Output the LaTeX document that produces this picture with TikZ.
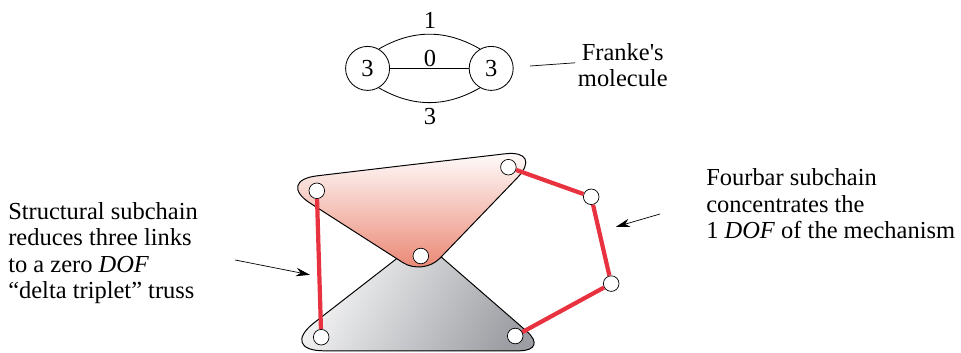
\documentclass[tikz,border=0pt]{standalone}
\usepackage{fontspec}
\setmainfont{Liberation Serif}
\usepackage{tikz}
\usetikzlibrary{arrows.meta,positioning,calc}
\definecolor{linkred}{HTML}{E8323F}
\definecolor{blush}{HTML}{E9806C}
\definecolor{steel}{HTML}{9C9EA3}
\tikzset{
  pin/.style={circle, draw=black, fill=white, line width=0.5pt, inner sep=0pt, minimum size=0.39cm},
  vertex/.style={circle, draw=black, line width=0.6pt, inner sep=0pt, minimum size=1.1cm, font=\fontsize{17.4}{17.4}\selectfont},
  lbl/.style={font=\fontsize{17.4}{17.4}\selectfont, inner sep=0pt},
  note/.style={font=\fontsize{17.4}{18.8}\selectfont, inner sep=0pt, align=left},
  link/.style={linkred, line width=3pt},
  leader/.style={-{Stealth[length=10pt,width=6pt]}, line width=0.5pt}
}
\begin{document}
\begin{tikzpicture}[>=Stealth]
  \useasboundingbox (0, 0) rectangle (24.025, 8.8);
  % the two plates
  \draw[line width=0.7pt, top color=white, bottom color=steel, shading angle=60]
    (10.3, 0.03) [rounded corners=1.15cm] -- (6.95, 0.03) [rounded corners=0.3cm] -- (10.53, 2.81)
    [rounded corners=0.75cm] -- (13.73, 0.03) [rounded corners=0pt] -- cycle;
  \draw[line width=0.7pt, top color=white, bottom color=blush]
    (10.0, 4.65) [rounded corners=1.05cm] -- (6.88, 4.28) [rounded corners=0.6cm] -- (10.58, 1.91)
    [rounded corners=1.0cm] -- (13.62, 5.07) [rounded corners=0pt] -- cycle;
  % pins of the linkage
  \node[pin] (a) at (7.92, 4.03) {};
  \node[pin] (b) at (12.71, 4.62) {};
  \node[pin] (c) at (10.52, 2.40) {};
  \node[pin] (d) at (8.03, 0.37) {};
  \node[pin] (e) at (12.88, 0.40) {};
  \node[pin] (f) at (14.78, 3.88) {};
  \node[pin] (g) at (15.28, 1.71) {};
  \draw[link] (a) -- (d);
  \draw[link] (b) -- (f);
  \draw[link] (f) -- (g);
  \draw[link] (g) -- (e);
  % molecule
  \node[vertex] (v1) at (9.19, 7.09) {3};
  \node[vertex] (v2) at (12.28, 7.09) {3};
  \draw[line width=0.6pt] (v1) -- (v2);
  \draw[line width=0.6pt] (v1.60) to[out=30, in=150] (v2.120);
  \draw[line width=0.6pt] (v1.-60) to[out=-30, in=-150] (v2.-120);
  \node[lbl] (top) at (10.75, 8.30) {1};
  \node[lbl] (mid) at (10.75, 7.35) {0};
  \node[lbl] (bot) at (10.75, 5.88) {3};
  % notes
  \node[note, align=center] (franke) at (15.57, 7.17) {Franke\textquotesingle s\\molecule};
  \node[note, anchor=west] (structural) at (0.2, 2.47) {Structural subchain\\reduces three links\\to a zero \textit{DOF}\\“delta triplet” truss};
  \node[note, anchor=west] (fourbar) at (17.65, 3.70) {Fourbar subchain\\concentrates the\\1 \textit{DOF} of the mechanism};
  \coordinate (l1) at (13.25, 7.15);
  \coordinate (l2) at (14.38, 7.23);
  \draw[line width=0.5pt] (l1) -- (l2);
  \coordinate (s1) at (5.88, 2.30);
  \coordinate (s2) at (7.75, 1.93);
  \draw[leader] (s1) -- (s2);
  \coordinate (r1) at (16.5, 3.45);
  \coordinate (r2) at (15.4, 3.13);
  \draw[leader] (r1) -- (r2);
\end{tikzpicture}
\end{document}
